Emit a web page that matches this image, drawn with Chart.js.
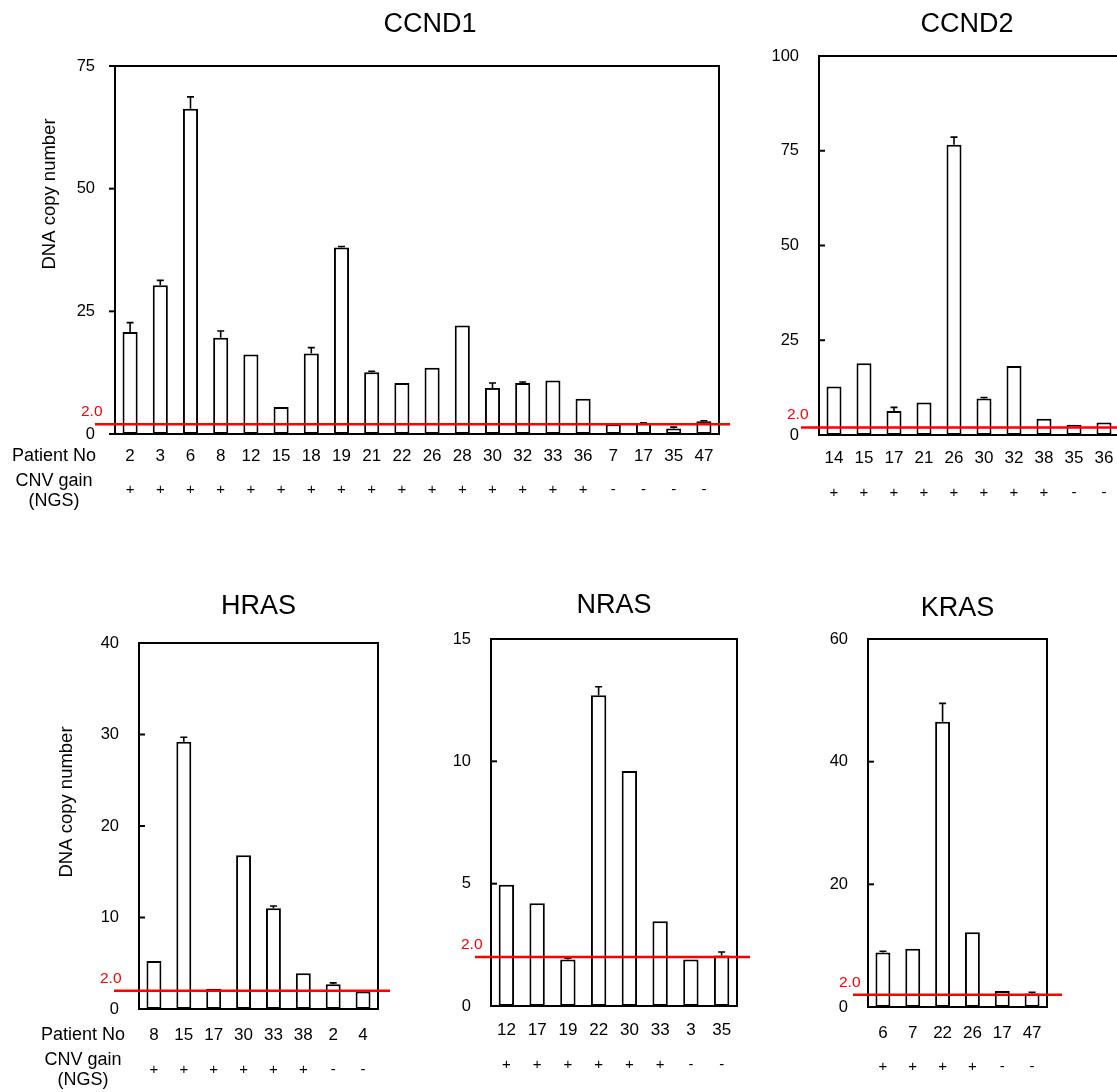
<!DOCTYPE html>
<html>
<head>
<meta charset="utf-8">
<title>DNA copy number</title>
<script src="https://cdn.jsdelivr.net/npm/chart.js@4.4.1/dist/chart.umd.min.js"></script>
<style>
  html, body { margin: 0; padding: 0; background: #fff; }
  body { width: 1117px; height: 1092px; overflow: hidden; position: relative; }
  canvas { position: absolute; }
</style>
</head>
<body>
<canvas id="ccnd1"></canvas>
<canvas id="ccnd2"></canvas>
<canvas id="hras"></canvas>
<canvas id="nras"></canvas>
<canvas id="kras"></canvas>
<script>
const threshold = 2.0;

const ccnd1Patients = ['2', '3', '6', '8', '12', '15', '18', '19', '21', '22', '26', '28', '30', '32', '33', '36', '7', '17', '35', '47'];
const ccnd1Gain = ['+', '+', '+', '+', '+', '+', '+', '+', '+', '+', '+', '+', '+', '+', '+', '+', '-', '-', '-', '-'];
const ccnd1Values = [20.8, 30.3, 66.3, 19.6, 16.2, 5.5, 16.4, 38.0, 12.6, 10.4, 13.5, 22.1, 9.4, 10.4, 10.9, 7.2, 2.0, 2.2, 1.1, 2.6];
const ccnd1Errors = [1.9, 1.0, 2.4, 1.4, 0, 0, 1.2, 0.2, 0.2, 0, 0, 0, 1.0, 0.2, 0, 0, 0, 0.1, 0.3, 0.1];
const ccnd1Ticks = [0, 25, 50, 75];

const ccnd2Patients = ['14', '15', '17', '21', '26', '30', '32', '38', '35', '36'];
const ccnd2Gain = ['+', '+', '+', '+', '+', '+', '+', '+', '-', '-'];
const ccnd2Values = [12.8, 18.9, 6.3, 8.6, 76.6, 9.6, 18.2, 4.3, 2.7, 3.3];
const ccnd2Errors = [0, 0, 1.0, 0, 2.0, 0.3, 0, 0, 0, 0];
const ccnd2Ticks = [0, 25, 50, 75, 100];

const hrasPatients = ['8', '15', '17', '30', '33', '38', '2', '4'];
const hrasGain = ['+', '+', '+', '+', '+', '+', '-', '-'];
const hrasValues = [5.25, 29.2, 2.2, 16.8, 11.0, 3.9, 2.7, 1.9];
const hrasErrors = [0, 0.5, 0, 0, 0.25, 0, 0.15, 0];
const hrasTicks = [0, 10, 20, 30, 40];

const nrasPatients = ['12', '17', '19', '22', '30', '33', '3', '35'];
const nrasGain = ['+', '+', '+', '+', '+', '+', '-', '-'];
const nrasValues = [4.96, 4.2, 1.9, 12.7, 9.6, 3.46, 1.9, 2.06];
const nrasErrors = [0, 0, 0.05, 0.35, 0, 0, 0, 0.15];
const nrasTicks = [0, 5, 10, 15];

const krasPatients = ['6', '7', '22', '26', '17', '47'];
const krasGain = ['+', '+', '+', '+', '-', '-'];
const krasValues = [8.9, 9.5, 46.5, 12.2, 2.6, 2.2];
const krasErrors = [0.2, 0, 3.0, 0, 0, 0.2];
const krasTicks = [0, 20, 40, 60];

const FONT = '"Liberation Sans", Arial, sans-serif';
Chart.defaults.font.family = FONT;
Chart.defaults.color = '#000';

// page layout of each panel (canvas box and plot area, page pixels)
const panels = [
    {
        id: 'ccnd1', title: 'CCND1', patients: ccnd1Patients, gain: ccnd1Gain, values: ccnd1Values, errors: ccnd1Errors, ticks: ccnd1Ticks,
        canvas: { x: 0, y: 0, w: 740, h: 530 }, area: { l: 115, t: 66, r: 719, b: 434 },
        titleDx: 13, titleY: 32, tickDir: -1, redFrom: 95, redTo: 730, labelGap: 22, signGap: 34,
        rowLabelX: 54, yTitle: { x: 49.5, y: 194 }
    },
    {
        id: 'ccnd2', title: 'CCND2', patients: ccnd2Patients, gain: ccnd2Gain, values: ccnd2Values, errors: ccnd2Errors, ticks: ccnd2Ticks,
        canvas: { x: 740, y: 0, w: 400, h: 530 }, area: { l: 819, t: 56, r: 1119, b: 435 },
        titleDx: -2, titleY: 32, tickDir: 1, redFrom: 801, redTo: 1140, labelGap: 23, signGap: 35
    },
    {
        id: 'hras', title: 'HRAS', patients: hrasPatients, gain: hrasGain, values: hrasValues, errors: hrasErrors, ticks: hrasTicks,
        canvas: { x: 0, y: 560, w: 420, h: 532 }, area: { l: 139, t: 643, r: 378, b: 1009 },
        titleDx: 0, titleY: 614, tickDir: 1, redFrom: 114, redTo: 390, labelGap: 26, signGap: 35,
        rowLabelX: 83, yTitle: { x: 67, y: 802 }
    },
    {
        id: 'nras', title: 'NRAS', patients: nrasPatients, gain: nrasGain, values: nrasValues, errors: nrasErrors, ticks: nrasTicks,
        canvas: { x: 420, y: 560, w: 360, h: 532 }, area: { l: 491, t: 639, r: 737, b: 1006 },
        titleDx: 0, titleY: 613, tickDir: 1, redFrom: 475, redTo: 750, labelGap: 24, signGap: 35
    },
    {
        id: 'kras', title: 'KRAS', patients: krasPatients, gain: krasGain, values: krasValues, errors: krasErrors, ticks: krasTicks,
        canvas: { x: 790, y: 560, w: 327, h: 532 }, area: { l: 868, t: 639, r: 1047, b: 1007 },
        titleDx: 0, titleY: 616, tickDir: 1, redFrom: 853, redTo: 1062, labelGap: 26, signGap: 34
    }
];

function panelPlugin(p) {
    return {
        id: 'panel_' + p.id,
        afterDatasetsDraw(chart) {
            const ctx = chart.ctx;
            const xs = chart.scales.x, ys = chart.scales.y;
            const a = chart.chartArea;
            const ox = p.canvas.x, oy = p.canvas.y;
            ctx.save();

            // error bars
            ctx.strokeStyle = '#000';
            ctx.lineWidth = 1.6;
            p.values.forEach((v, i) => {
                const e = p.errors[i];
                if (!e) return;
                const px = xs.getPixelForValue(i);
                const y0 = ys.getPixelForValue(v);
                const y1 = ys.getPixelForValue(v + e);
                ctx.beginPath();
                ctx.moveTo(px, y0);
                ctx.lineTo(px, y1);
                ctx.moveTo(px - 3.5, y1);
                ctx.lineTo(px + 3.5, y1);
                ctx.stroke();
            });

            // frame and y ticks
            ctx.lineWidth = 2;
            ctx.strokeRect(a.left, a.top, a.right - a.left, a.bottom - a.top);
            ys.ticks.forEach(t => {
                const py = ys.getPixelForValue(t.value);
                ctx.beginPath();
                ctx.moveTo(a.left, py);
                ctx.lineTo(a.left + p.tickDir * 6, py);
                ctx.stroke();
            });

            // threshold line
            const ry = ys.getPixelForValue(threshold);
            ctx.strokeStyle = '#ff0000';
            ctx.lineWidth = 2.5;
            ctx.beginPath();
            ctx.moveTo(p.redFrom - ox, ry);
            ctx.lineTo(p.redTo - ox, ry);
            ctx.stroke();
            ctx.fillStyle = '#ff0000';
            ctx.font = '15.5px ' + FONT;
            ctx.textAlign = 'right';
            ctx.textBaseline = 'alphabetic';
            ctx.fillText(threshold.toFixed(1), p.redFrom - ox + 7.5, ry - 8);

            // CNV gain signs
            ctx.fillStyle = '#000';
            ctx.font = '15px ' + FONT;
            ctx.textAlign = 'center';
            ctx.textBaseline = 'middle';
            const labelY = a.bottom + p.labelGap;
            p.gain.forEach((g, i) => {
                ctx.fillText(g, xs.getPixelForValue(i), labelY + p.signGap);
            });

            // row labels
            if (p.rowLabelX) {
                ctx.font = '18px ' + FONT;
                const rx = p.rowLabelX - ox;
                ctx.fillText('Patient No', rx, labelY);
                ctx.fillText('CNV gain', rx, labelY + 25);
                ctx.fillText('(NGS)', rx, labelY + 45);
            }

            // y axis title
            if (p.yTitle) {
                ctx.save();
                ctx.translate(p.yTitle.x - ox, p.yTitle.y - oy);
                ctx.rotate(-Math.PI / 2);
                ctx.font = '18.5px ' + FONT;
                ctx.fillText('DNA copy number', 0, 0);
                ctx.restore();
            }

            // panel title
            ctx.font = '27px ' + FONT;
            ctx.textBaseline = 'alphabetic';
            ctx.fillText(p.title, (a.left + a.right) / 2 + p.titleDx, p.titleY - oy);

            ctx.restore();
        }
    };
}

function createPanel(p) {
    const c = p.canvas, a = p.area;
    const canvas = document.getElementById(p.id);
    canvas.width = c.w;
    canvas.height = c.h;
    canvas.style.left = c.x + 'px';
    canvas.style.top = c.y + 'px';

    new Chart(canvas, {
        type: 'bar',
        data: {
            labels: p.patients,
            datasets: [{
                data: p.values,
                backgroundColor: '#ffffff',
                borderColor: '#000000',
                borderWidth: 2,
                borderSkipped: false,
                barPercentage: 0.5,
                categoryPercentage: 1
            }]
        },
        options: {
            responsive: false,
            animation: false,
            layout: {
                padding: { top: a.t - c.y, right: c.x + c.w - a.r, bottom: 0, left: 0 }
            },
            plugins: {
                legend: { display: false },
                tooltip: { enabled: false }
            },
            scales: {
                x: {
                    grid: { display: false, drawTicks: false },
                    border: { display: false },
                    ticks: {
                        color: '#000',
                        font: { size: 17 },
                        padding: p.labelGap - 10.2,
                        autoSkip: false,
                        maxRotation: 0,
                        minRotation: 0
                    },
                    afterFit: s => { s.height = c.y + c.h - a.b; }
                },
                y: {
                    min: 0,
                    max: p.ticks[p.ticks.length - 1],
                    grid: { display: false, drawTicks: false },
                    border: { display: false },
                    afterBuildTicks: s => { s.ticks = p.ticks.map(v => ({ value: v })); },
                    ticks: {
                        color: '#000',
                        font: { size: 16.5 },
                        padding: 20
                    },
                    afterFit: s => { s.width = a.l - c.x; }
                }
            }
        },
        plugins: [panelPlugin(p)]
    });
}

panels.forEach(createPanel);
</script>
</body>
</html>
